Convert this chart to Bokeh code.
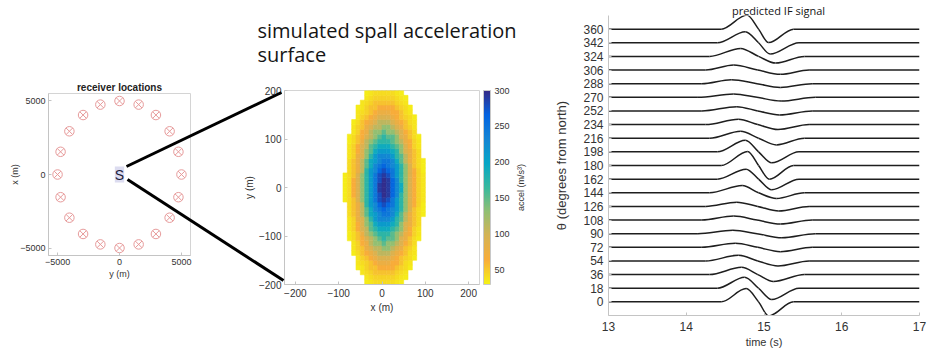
import numpy as np
from bokeh.plotting import figure
from bokeh.models import (Range1d, FixedTicker, LinearColorMapper, ColorBar, Label,
                          ColumnDataSource)
from bokeh.layouts import row, column
from bokeh.embed import file_html
from bokeh.resources import INLINE
from bokeh.core.properties import value

# ---------------- data ----------------
# receiver ring (left panel)
receiver_angle_deg = [0, 18, 36, 54, 72, 90, 108, 126, 144, 162,
                      180, 198, 216, 234, 252, 270, 288, 306, 324, 342]
receiver_radius_m = 5000

# spall acceleration surface (middle panel): elliptical patch, value by normalised radius
surface_center_x = 6
surface_semi_x = 92
surface_semi_y = 222
surface_cell = 10
ring_radius = [0.00, 0.05, 0.10, 0.15, 0.20, 0.25, 0.30, 0.35, 0.40, 0.45, 0.50,
               0.55, 0.60, 0.65, 0.70, 0.75, 0.80, 0.85, 0.90, 0.95, 1.00]
ring_accel = [300, 297, 290, 278, 262, 246, 229, 211, 192, 172, 152,
              131, 110, 92, 77, 64, 54, 46, 41, 37, 34]
colorbar_ticks = [50, 100, 150, 200, 250, 300]

# predicted IF signal (right panel): key points of each trace
trace_theta = [0, 18, 36, 54, 72, 90, 108, 126, 144, 162, 180,
               198, 216, 234, 252, 270, 288, 306, 324, 342, 360]
start_time = [14.45, 14.40, 14.30, 14.25, 14.20, 14.15, 14.20, 14.25, 14.30, 14.40, 14.45,
              14.40, 14.30, 14.25, 14.20, 14.15, 14.20, 14.25, 14.30, 14.40, 14.45]
peak_time = [14.77, 14.75, 14.71, 14.67, 14.63, 14.60, 14.61, 14.65, 14.72, 14.77, 14.79,
             14.76, 14.70, 14.67, 14.65, 14.61, 14.58, 14.61, 14.70, 14.76, 14.78]
peak_amp = [17.5, 14.5, 9.6, 7.5, 5.3, 4.4, 5.3, 5.5, 9.6, 13.2, 18.5,
            15.2, 9.2, 7.0, 5.7, 4.4, 5.3, 6.6, 10.6, 14.5, 18.5]
zero_time = [14.93, 14.93, 14.92, 14.92, 14.92, 14.91, 14.91, 14.92, 14.93, 14.93, 14.93,
             14.93, 14.93, 14.92, 14.92, 14.91, 14.91, 14.92, 14.93, 14.93, 14.93]
trough_time = [15.06, 15.10, 15.12, 15.18, 15.21, 15.23, 15.21, 15.19, 15.16, 15.10, 15.07,
               15.10, 15.16, 15.18, 15.20, 15.22, 15.21, 15.21, 15.15, 15.08, 15.06]
trough_amp = [18.5, 14.9, 9.2, 6.6, 5.7, 5.3, 5.3, 6.0, 7.5, 14.1, 18.1,
              14.5, 8.8, 6.6, 5.3, 4.9, 4.9, 5.7, 8.8, 14.9, 17.8]
end_time = [15.38, 15.45, 15.52, 15.58, 15.62, 15.66, 15.62, 15.58, 15.52, 15.45, 15.38,
            15.45, 15.52, 15.58, 15.62, 15.66, 15.62, 15.58, 15.52, 15.45, 15.38]
time_ticks = [13, 14, 15, 16, 17]

# ---------------- style ----------------
FONT = "Liberation Sans"
AX = "#c4c4c4"
TXT = "#333333"
PAGE_W, PAGE_H = 935, 354


def style_axes(p, tick_px, label_px):
    for ax in p.axis:
        ax.axis_line_color = AX
        ax.major_tick_line_color = AX
        ax.major_tick_in = 3
        ax.major_tick_out = 0
        ax.minor_tick_line_color = None
        ax.major_label_text_font = FONT
        ax.major_label_text_font_size = tick_px
        ax.major_label_text_color = TXT
        ax.axis_label_text_font = FONT
        ax.axis_label_text_font_size = label_px
        ax.axis_label_text_font_style = "normal"
        ax.axis_label_text_color = TXT
    p.grid.visible = False


# parula (reversed: low = yellow, high = dark blue)
anchors = ["#352a87", "#0363e1", "#1485d4", "#06a7c6", "#38b99e",
           "#92bf73", "#d6b354", "#f8ad3a", "#f5f216"]
rgb = np.array([[int(c[i:i + 2], 16) for i in (1, 3, 5)] for c in anchors], float)
tt = np.linspace(0, 1, len(anchors))
pal = []
for t in np.linspace(0, 1, 256):
    r, g, b = (np.interp(t, tt, rgb[:, k]) for k in range(3))
    pal.append("#%02x%02x%02x" % (int(round(r)), int(round(g)), int(round(b))))
pal = pal[::-1]

# ---------------- panel 1: receiver locations ----------------
P1_W, P1_L, P1_R, P1_T, P1_B = 240, 48, 50, 93, 99
x1r, y1r = (-5730, 5730), (-5510, 5510)
p1 = figure(width=P1_W, height=PAGE_H, x_range=Range1d(*x1r), y_range=Range1d(*y1r),
            min_border_left=P1_L, min_border_right=P1_R, min_border_top=P1_T,
            min_border_bottom=P1_B, toolbar_location=None, output_backend="svg",
            title="receiver locations", frame_align=False)
p1.title.text_font = FONT
p1.title.text_font_size = "10px"
p1.title.text_font_style = "bold"
p1.title.text_color = "#222222"
p1.title.align = "center"
p1.title.standoff = 1
p1.outline_line_color = "#d4d4d4"
p1.xaxis.axis_label = "y (m)"
p1.yaxis.axis_label = "x (m)"
p1.xaxis.ticker = FixedTicker(ticks=[-5000, 0, 5000])
p1.yaxis.ticker = FixedTicker(ticks=[-5000, 0, 5000])
style_axes(p1, "9px", "9px")
p1.xaxis.major_label_standoff = 3
p1.yaxis.major_label_standoff = 3
p1.xaxis.axis_label_standoff = 1
p1.yaxis.axis_label_standoff = -3
p1.border_fill_color = "white"
ang = np.deg2rad(receiver_angle_deg)
p1.scatter(receiver_radius_m * np.sin(ang), receiver_radius_m * np.cos(ang),
           marker="circle_x", size=9.5, line_color="#e79a9a", fill_color=None, line_width=1)
p1.add_layout(Label(x=0, y=0, text="S", text_align="center", text_baseline="middle",
                    text_font=FONT, text_font_size="14px", text_color="#1c1c3c",
                    background_fill_color="#dcdcf0", background_fill_alpha=1.0))

# ---------------- panel 2: spall acceleration surface ----------------
P2_W, P2_L, P2_R, P2_T, P2_B = 300, 42, 61, 90, 70
x2r, y2r = (-225, 225), (-200, 200)
p2 = figure(width=P2_W, height=PAGE_H, x_range=Range1d(*x2r), y_range=Range1d(*y2r),
            min_border_left=P2_L, min_border_right=P2_R, min_border_top=P2_T,
            min_border_bottom=P2_B, toolbar_location=None, output_backend="svg",
            frame_align=False)
p2.outline_line_color = "#d4d4d4"
p2.xaxis.axis_label = "x (m)"
p2.yaxis.axis_label = "y (m)"
p2.xaxis.ticker = FixedTicker(ticks=[-200, -100, 0, 100, 200])
p2.yaxis.ticker = FixedTicker(ticks=[-200, -100, 0, 100, 200])
style_axes(p2, "10px", "10px")
p2.xaxis.major_label_standoff = 4
p2.yaxis.major_label_standoff = 3
p2.xaxis.axis_label_standoff = 2
p2.yaxis.axis_label_standoff = 1
p2.border_fill_color = "white"

xs_c = np.arange(-220 + surface_cell / 2, 220, surface_cell)
ys_c = np.arange(-200 + surface_cell / 2, 200, surface_cell)
cx, cy, cv = [], [], []
step = ring_radius[1] - ring_radius[0]
for yy in ys_c:
    for xx in xs_c:
        rr = np.hypot((xx - surface_center_x) / surface_semi_x, yy / surface_semi_y)
        if rr <= 1.0:
            cx.append(xx)
            cy.append(yy)
            cv.append(ring_accel[int(round(rr / step))])
mapper = LinearColorMapper(palette=pal, low=30, high=300)
src2 = ColumnDataSource(dict(x=cx, y=cy, v=cv))
p2.rect(x="x", y="y", width=surface_cell, height=surface_cell, source=src2,
        fill_color={"field": "v", "transform": mapper},
        line_color={"field": "v", "transform": mapper}, line_width=0.6)
cb = ColorBar(color_mapper=mapper, ticker=FixedTicker(ticks=colorbar_ticks),
              width=7, padding=0, margin=7, label_standoff=4, location=(4, 0),
              major_label_text_font=FONT, major_label_text_font_size="9px",
              major_label_text_color=TXT, major_tick_line_color=None,
              bar_line_color="#c8c8c8", border_line_color=None,
              background_fill_alpha=0)
p2.add_layout(cb, "right")

# ---------------- panel 3: predicted IF signal ----------------
P3_W, P3_L, P3_R, P3_T, P3_B = 395, 68, 16, 15, 39
p3 = figure(width=P3_W, height=PAGE_H, x_range=Range1d(13, 17), y_range=Range1d(-18, 378),
            min_border_left=P3_L, min_border_right=P3_R, min_border_top=P3_T,
            min_border_bottom=P3_B, toolbar_location=None, output_backend="svg",
            frame_align=False)
p3.outline_line_color = None
p3.xaxis.axis_label = "time (s)"
p3.yaxis.axis_label = "\u03b8 (degrees from north)"
p3.xaxis.ticker = FixedTicker(ticks=time_ticks)
p3.yaxis.ticker = FixedTicker(ticks=trace_theta)
style_axes(p3, "12px", "11px")
p3.yaxis.axis_label_text_font_size = "13px"
p3.xaxis.major_label_standoff = 6
p3.yaxis.major_label_standoff = 5
p3.xaxis.axis_label_standoff = 2
p3.yaxis.axis_label_standoff = 11
p3.border_fill_color = "white"

bz = {k: [] for k in ("x0", "y0", "x1", "y1", "cx0", "cy0", "cx1", "cy1")}
for i, th in enumerate(trace_theta):
    kx = [13.0, start_time[i], peak_time[i], zero_time[i], trough_time[i], end_time[i], 17.0]
    ky = [0.0, 0.0, peak_amp[i], 0.0, -trough_amp[i], 0.0, 0.0]
    n = len(kx)
    h = [kx[k + 1] - kx[k] for k in range(n - 1)]
    d = [(ky[k + 1] - ky[k]) / h[k] for k in range(n - 1)]
    m = [0.0] * n
    for k in range(1, n - 1):
        if d[k - 1] * d[k] > 0:
            w1 = 2 * h[k] + h[k - 1]
            w2 = h[k] + 2 * h[k - 1]
            m[k] = (w1 + w2) / (w1 / d[k - 1] + w2 / d[k])
    for k in range(n - 1):
        bz["x0"].append(kx[k]); bz["y0"].append(ky[k] + th)
        bz["x1"].append(kx[k + 1]); bz["y1"].append(ky[k + 1] + th)
        bz["cx0"].append(kx[k] + h[k] / 3); bz["cy0"].append(ky[k] + th + m[k] * h[k] / 3)
        bz["cx1"].append(kx[k + 1] - h[k] / 3); bz["cy1"].append(ky[k + 1] + th - m[k + 1] * h[k] / 3)
p3.bezier(x0="x0", y0="y0", x1="x1", y1="y1", cx0="cx0", cy0="cy0", cx1="cx1", cy1="cy1",
          source=ColumnDataSource(bz), line_color="#1e1e1e", line_width=1.5)

# ---------------- overlay: slide text and connector lines ----------------
bg = figure(width=PAGE_W, height=PAGE_H, x_range=Range1d(0, PAGE_W), y_range=Range1d(PAGE_H, 0),
            min_border=0, toolbar_location=None, output_backend="svg",
            x_axis_type=None, y_axis_type=None, frame_align=False)
bg.grid.visible = False
bg.outline_line_color = None
bg.background_fill_alpha = 0
bg.border_fill_alpha = 0

# geometry of panel frames (in page pixel coords)
f1_left, f1_w = P1_L, P1_W - P1_L - P1_R
f1_top, f1_h = P1_T, PAGE_H - P1_T - P1_B
s_x = f1_left + f1_w * (0 - x1r[0]) / (x1r[1] - x1r[0])
s_y = f1_top + f1_h * (y1r[1] - 0) / (y1r[1] - y1r[0])
f2_left = P1_W + P2_L
f2_top = P2_T
f2_bottom = PAGE_H - P2_B
bg.segment(x0=[s_x + 7, s_x + 8], y0=[s_y - 8, s_y + 5],
           x1=[f2_left - 1, f2_left + 1], y1=[f2_top + 2, f2_bottom - 4],
           line_color="black", line_width=3)

bg.text(x=[257, 257], y=[30, 54],
        text=["simulated spall acceleration", "surface"],
        text_font=value("Open Sans"), text_font_size="20px", text_color="#151515",
        text_baseline="alphabetic", text_align="left")
bg.text(x=[778], y=[10], text=["predicted IF signal"],
        text_font=value("Open Sans"), text_font_size="11px", text_color="#151515",
        text_baseline="alphabetic", text_align="center")
bg.text(x=[P1_W + P2_W - 20], y=[(f2_top + f2_bottom) / 2], text=["accel (m/s\u00b3)"],
        angle=np.pi / 2, text_font=value(FONT), text_font_size="9px", text_color=TXT,
        text_baseline="middle", text_align="center")

panels = row(p1, p2, p3)
bg.margin = (-PAGE_H, 0, 0, 0)
page = column(panels, bg)

open("out.html", "w").write(file_html(page, INLINE))
